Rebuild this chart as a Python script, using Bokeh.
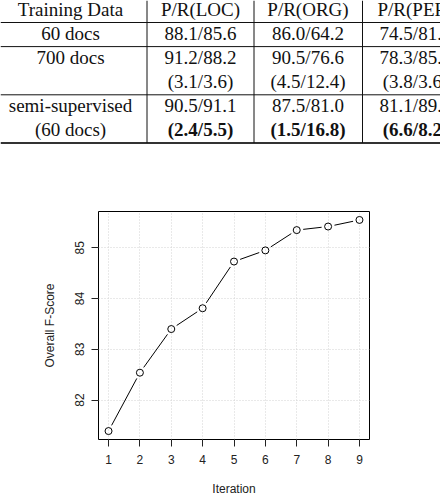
import math
from bokeh.plotting import figure
from bokeh.layouts import column
from bokeh.models import Range1d, FixedTicker
from bokeh.core.properties import value
from bokeh.embed import file_html
from bokeh.resources import INLINE

# ---------------- data ----------------
table_lines = [
    ["Training Data", "P/R(LOC)", "P/R(ORG)", "P/R(PER)"],
    ["60 docs", "88.1/85.6", "86.0/64.2", "74.5/81.4"],
    ["700 docs", "91.2/88.2", "90.5/76.6", "78.3/85.0"],
    ["", "(3.1/3.6)", "(4.5/12.4)", "(3.8/3.6)"],
    ["semi-supervised", "90.5/91.1", "87.5/81.0", "81.1/89.6"],
    ["(60 docs)", "(2.4/5.5)", "(1.5/16.8)", "(6.6/8.2)"],
]
bold_cells = [(5, 1), (5, 2), (5, 3)]
rule_after_lines = [0, 1, 3, 5]

iterations = [1, 2, 3, 4, 5, 6, 7, 8, 9]
fscore = [81.39, 82.54, 83.40, 83.81, 84.73, 84.95, 85.35, 85.42, 85.55]
y_ticks = [82, 83, 84, 85]

# ---------------- table ----------------
TW, TH = 440, 150
col_centers = [70, 200, 307.5, 415]
col_edges = [146.5, 253.5, 362]
line_base0, line_step = 15, 24.1
mid_shift = 6.5

t = figure(frame_width=TW, frame_height=TH, x_range=Range1d(0, TW), y_range=Range1d(TH, 0),
           toolbar_location=None, output_backend="svg",
           min_border_left=0, min_border_right=0, min_border_top=0, min_border_bottom=0,
           x_axis_location=None, y_axis_location=None)
t.frame_align = False
t.grid.visible = False
t.outline_line_color = None
t.background_fill_color = "white"
t.border_fill_color = "white"

nx, ny, ntxt, bx, by, btxt = [], [], [], [], [], []
for i, row in enumerate(table_lines):
    for j, s in enumerate(row):
        if not s:
            continue
        yy = line_base0 + line_step * i - mid_shift
        if (i, j) in bold_cells:
            bx.append(col_centers[j]); by.append(yy); btxt.append(s)
        else:
            nx.append(col_centers[j]); ny.append(yy); ntxt.append(s)

t.text(x=nx, y=ny, text=ntxt, text_font=value("Liberation Serif"), text_font_size=value("19px"),
       text_align="center", text_baseline="middle", text_color="#111111")
t.text(x=bx, y=by, text=btxt, text_font=value("Liberation Serif"), text_font_size=value("19px"),
       text_font_style="bold", text_align="center", text_baseline="middle", text_color="#111111")

rule_y = [line_base0 + line_step * k + 7 for k in rule_after_lines]
t.segment(x0=[0] * 3, y0=rule_y[:3], x1=[TW] * 3, y1=rule_y[:3], line_color="#111111", line_width=1)
t.segment(x0=[0], y0=[rule_y[3]], x1=[TW], y1=[rule_y[3]], line_color="#333333", line_width=2)
t.segment(x0=col_edges, y0=[0] * 3, x1=col_edges, y1=[rule_y[3]] * 3, line_color="#111111", line_width=1)

# ---------------- chart ----------------
FW, FH = 271, 228
xr = (min(iterations), max(iterations))
yr = (min(fscore), max(fscore))
xpad = 0.04 * (xr[1] - xr[0])
ypad = 0.04 * (yr[1] - yr[0])
x0, x1 = xr[0] - xpad, xr[1] + xpad
y0, y1 = yr[0] - ypad, yr[1] + ypad

p = figure(frame_width=FW, frame_height=FH, x_range=Range1d(x0, x1), y_range=Range1d(y0, y1),
           toolbar_location=None, output_backend="svg",
           min_border_left=98, min_border_right=71, min_border_top=61, min_border_bottom=59)
p.frame_align = False
p.background_fill_color = "white"
p.border_fill_color = "white"
p.outline_line_color = "black"
p.outline_line_width = 1

for ax in (p.xaxis[0], p.yaxis[0]):
    ax.axis_line_color = None
    ax.major_tick_out = 7
    ax.major_tick_in = 0
    ax.minor_tick_line_color = None
    ax.major_tick_line_color = "#222222"
    ax.major_label_text_font = "Liberation Sans"
    ax.major_label_text_font_size = "12px"
    ax.major_label_text_color = "#222222"
    ax.axis_label_text_font = "Liberation Sans"
    ax.axis_label_text_font_size = "12px"
    ax.axis_label_text_font_style = "normal"
    ax.axis_label_text_color = "#222222"

p.xaxis.ticker = FixedTicker(ticks=iterations)
p.yaxis.ticker = FixedTicker(ticks=y_ticks)
p.yaxis.major_label_orientation = "vertical"
p.xaxis.axis_label = "Iteration"
p.yaxis.axis_label = "Overall F-Score"
p.xaxis.major_label_standoff = 8
p.xaxis.axis_label_standoff = 15
p.yaxis.major_label_standoff = 7
p.yaxis.axis_label_standoff = 16

p.xgrid.ticker = FixedTicker(ticks=iterations)
p.ygrid.ticker = FixedTicker(ticks=y_ticks)
p.grid.grid_line_color = "#d3d3d3"
p.grid.grid_line_dash = "1 2"
p.grid.grid_line_width = 1

# line segments with gaps around points (type="b")
sx = FW / (x1 - x0)
sy = FH / (y1 - y0)
gap = 6.5
sx0, sy0, sx1, sy1 = [], [], [], []
for a in range(len(iterations) - 1):
    xa, ya, xb, yb = iterations[a], fscore[a], iterations[a + 1], fscore[a + 1]
    L = math.hypot((xb - xa) * sx, (yb - ya) * sy)
    f = gap / L
    sx0.append(xa + f * (xb - xa)); sy0.append(ya + f * (yb - ya))
    sx1.append(xb - f * (xb - xa)); sy1.append(yb - f * (yb - ya))
p.segment(x0=sx0, y0=sy0, x1=sx1, y1=sy1, line_color="black", line_width=1)
p.scatter(x=iterations, y=fscore, marker="circle", size=7, fill_color=None,
          line_color="black", line_width=1)

layout = column(t, p, spacing=0)
open("out.html", "w").write(file_html(layout, INLINE))
